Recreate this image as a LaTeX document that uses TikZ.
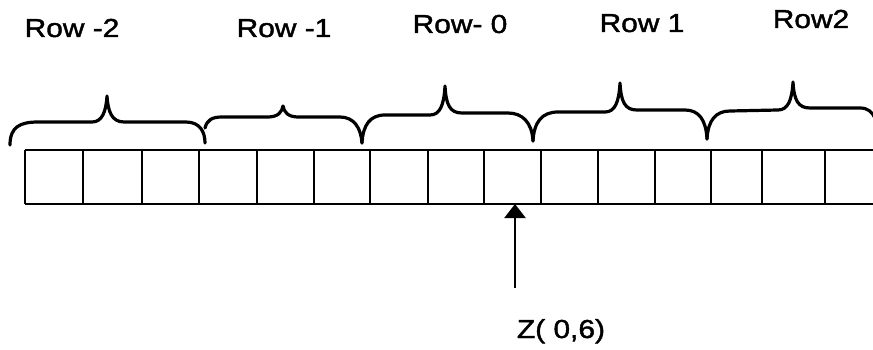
\documentclass[tikz,border=0pt]{standalone}
\usepackage{fontspec}
\setmainfont{Liberation Sans}[FakeStretch=1.15,FakeBold=1.6]
\usetikzlibrary{arrows.meta}
\begin{document}
\begin{tikzpicture}[x=1pt,y=-1pt,
  cellline/.style={line width=2.4pt},
  bracepath/.style={line width=3.2pt, line cap=round, line join=round},
  lbl/.style={font=\fontsize{26}{30}\selectfont, anchor=base, inner sep=0pt},
  pointer/.style={line width=2.4pt, -{Triangle[width=21pt,length=14pt]}}]
\useasboundingbox (0,0) rectangle (873,350);

% row labels
\node[lbl] (rm2) at (72,37) {Row -2};
\node[lbl] (rm1) at (284,37) {Row -1};
\node[lbl] (r0)  at (460,33) {Row- 0};
\node[lbl] (r1)  at (642,32) {Row 1};
\node[lbl] (r2)  at (811,28) {Row2};

% braces grouping three cells each
\draw[bracepath] (10,145) .. controls (10,127) and (20,122) .. (38,122) -- (92,122)
  .. controls (102,122) and (106,112) .. (107,96)
  .. controls (108,112) and (112,122) .. (124,122) -- (186,122)
  .. controls (200,122) and (205,132) .. (205,143);
\draw[bracepath] (205,128) .. controls (207,120) and (212,117) .. (222,117) -- (268,117)
  .. controls (278,117) and (282,112) .. (283,106)
  .. controls (284,112) and (288,117) .. (298,117) -- (340,117)
  .. controls (354,117) and (361,128) .. (362,143);
\draw[bracepath] (362,143) .. controls (363,125) and (370,115) .. (385,115) -- (430,115)
  .. controls (440,115) and (444,105) .. (445,86)
  .. controls (446,105) and (450,113) .. (462,113) -- (508,113)
  .. controls (522,113) and (532,122) .. (533,141);
\draw[bracepath] (533,141) .. controls (534,122) and (542,112) .. (558,112) -- (605,112)
  .. controls (615,112) and (619,102) .. (620,83)
  .. controls (621,102) and (625,110) .. (637,110) -- (685,110)
  .. controls (699,110) and (706,120) .. (707,139);
\draw[bracepath] (707,139) .. controls (708,120) and (716,111) .. (730,111) -- (778,110)
  .. controls (788,110) and (792,100) .. (793,82)
  .. controls (794,100) and (798,108) .. (810,108) -- (860,108)
  .. controls (868,108) and (872,112) .. (875,118);

% strip of cells
\draw[cellline] (25,150) -- (873,150) (25,204) -- (873,204);
\foreach \x in {25,83,142,199,257,314,370,428,484,541,598,655,711,762,825}
  \draw[cellline] (\x,150) -- (\x,204);

% pointer to the current cell
\node[lbl] (z) at (561,338) {Z( 0,6)};
\coordinate (tail) at (515,288);
\coordinate (tip) at (515,204);
\draw[pointer] (tail) -- (tip);
\end{tikzpicture}
\end{document}
